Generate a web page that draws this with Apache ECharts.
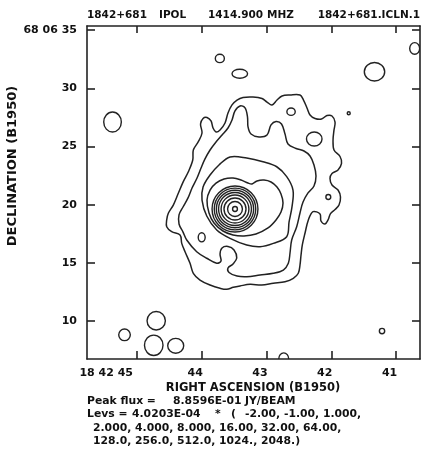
<!DOCTYPE html>
<html><head><meta charset="utf-8">
<script src="https://cdn.jsdelivr.net/npm/echarts@6/dist/echarts.min.js"></script>
<style>html,body{margin:0;padding:0;background:#fff}#c{width:424px;height:452px}</style>
</head><body><div id="c"></div>
<script>
// RA in seconds of time (18h 42m ..s), Dec in arcsec (+68d 06' ..")
const raRange = [40.633, 45.772];
const decRange = [6.745, 35.35];
const raTicks = [41, 42, 43, 44, 45];
const raTickLabels = ['41', '42', '43', '44', '18 42 45'];
const decTicks = [10, 15, 20, 25, 30, 35];
const decTickLabels = ['10', '15', '20', '25', '30', '68 06 35'];

// contour level 1 x base (outer)
const contourL1 = [[43.981,27.41],[43.920,27.49],[43.858,27.19],[43.827,26.59],[43.781,26.25],[43.719,26.42],[43.642,27.02],[43.596,27.88],[43.534,28.57],[43.457,28.99],[43.364,29.21],[43.210,29.25],[43.071,29.12],[42.994,28.82],[42.917,28.57],[42.840,28.99],[42.762,29.34],[42.639,29.42],[42.485,29.42],[42.431,28.99],[42.377,28.31],[42.330,27.71],[42.253,27.41],[42.153,27.36],[42.068,27.66],[41.991,27.62],[41.944,27.10],[41.960,26.42],[41.975,25.56],[41.960,24.70],[41.867,24.14],[41.844,23.54],[41.898,22.98],[41.991,22.68],[42.022,22.25],[41.991,21.69],[41.898,21.26],[41.860,20.66],[41.883,19.97],[41.944,19.59],[42.014,19.24],[42.052,18.69],[42.099,18.34],[42.161,18.60],[42.176,19.20],[42.284,19.40],[42.356,18.69],[42.407,17.57],[42.449,16.54],[42.469,15.68],[42.485,14.82],[42.511,14.11],[42.588,13.68],[42.716,13.38],[42.897,13.25],[43.076,13.10],[43.256,13.16],[43.410,13.02],[43.514,12.90],[43.616,12.73],[43.719,12.82],[43.873,13.10],[44.028,13.53],[44.131,14.11],[44.182,14.97],[44.259,15.96],[44.310,16.68],[44.336,17.40],[44.465,17.68],[44.542,18.11],[44.542,18.69],[44.517,19.26],[44.440,19.97],[44.363,20.98],[44.286,21.98],[44.208,22.83],[44.140,23.84],[44.131,24.70],[44.054,25.41],[43.997,26.16],[44.020,26.93]];
// level 2
const contourL2 = [[43.410,28.48],[43.333,28.31],[43.295,27.53],[43.287,26.68],[43.241,26.07],[43.117,25.82],[42.994,25.99],[42.932,26.85],[42.855,27.15],[42.770,26.93],[42.716,26.07],[42.670,25.21],[42.546,24.83],[42.423,24.61],[42.330,24.18],[42.269,23.41],[42.238,22.47],[42.269,21.61],[42.361,21.01],[42.438,20.23],[42.485,19.29],[42.536,18.11],[42.613,16.97],[42.639,15.85],[42.665,14.97],[42.742,14.39],[42.897,14.11],[43.102,13.96],[43.307,13.81],[43.457,13.87],[43.580,14.18],[43.596,14.56],[43.519,14.91],[43.461,15.42],[43.503,16.11],[43.596,16.41],[43.688,16.28],[43.719,15.76],[43.704,15.16],[43.770,14.97],[43.924,15.40],[44.079,15.96],[44.233,16.97],[44.290,17.65],[44.352,18.34],[44.352,19.12],[44.290,19.80],[44.213,20.58],[44.151,21.43],[44.074,22.29],[44.012,23.15],[43.951,23.93],[43.873,24.70],[43.781,25.39],[43.688,25.99],[43.596,26.59],[43.534,27.28],[43.488,28.05]];
// level 4
const contourL4 = [[43.981,21.52],[43.873,22.55],[43.735,23.41],[43.565,24.10],[43.307,24.01],[43.056,23.69],[42.844,23.26],[42.690,22.41],[42.593,21.26],[42.608,19.83],[42.654,18.51],[42.690,17.25],[42.897,16.68],[43.102,16.39],[43.307,16.54],[43.565,17.11],[43.770,17.83],[43.924,19.03],[43.997,20.40]];
// level 8
const contourL8 = [[43.920,20.40],[43.873,21.26],[43.781,21.86],[43.657,22.21],[43.519,22.29],[43.395,22.12],[43.287,21.86],[43.225,21.78],[43.148,22.04],[43.040,22.12],[42.932,21.95],[42.840,21.52],[42.778,20.92],[42.747,20.15],[42.778,19.37],[42.855,18.69],[42.978,18.00],[43.164,17.48],[43.349,17.31],[43.519,17.40],[43.673,17.74],[43.812,18.43],[43.889,19.29]];
// core: levels 16 ... 2048 (radius in arcsec)
const coreCenter = [43.488, 19.63];
const coreRadii = [1.98, 1.79, 1.61, 1.42, 1.20, 0.95, 0.64, 0.21];
// small closed contours: [ra, dec, half-width arcsec, half-height arcsec]
const islands = [
  [43.722,32.56,0.39,0.36],[43.414,31.25,0.67,0.39],[41.335,31.42,0.88,0.79],[40.715,33.42,0.43,0.50],
  [45.378,27.10,0.76,0.86],[42.623,27.99,0.36,0.32],[42.265,25.64,0.67,0.60],[41.733,27.85,0.13,0.13],
  [45.193,8.82,0.50,0.50],[44.704,10.03,0.79,0.79],[44.742,7.92,0.80,0.88],[44.403,7.88,0.69,0.64],
  [42.736,6.75,0.43,0.52],[41.219,9.15,0.23,0.23],[44.002,17.20,0.30,0.39],[42.048,20.66,0.21,0.21]
];

const titleParts = ['1842+681', 'IPOL', '1414.900', 'MHZ', '1842+681.ICLN.1'];
const peakParts = ['Peak flux =', '8.8596E-01', 'JY/BEAM'];
const levParts = ['Levs =', '4.0203E-04', '*', '(', '-2.00, -1.00, 1.000,'];
const levLines = ['2.000, 4.000, 8.000, 16.00, 32.00, 64.00,', '128.0, 256.0, 512.0, 1024., 2048.)'];

const cosDec = Math.cos((68 + 6 / 60 + 20 / 3600) * Math.PI / 180);
const arcsecToRaSec = 1 / (15 * cosDec);
const INK = '#222';
const FONT = '"DejaVu Sans", "Liberation Sans", sans-serif';

const contours = [contourL1, contourL2, contourL4, contourL8];
const ellipseData = islands.map(d => d.slice())
  .concat(coreRadii.map(r => [coreCenter[0], coreCenter[1], r, r]));

const chart = echarts.init(document.getElementById('c'), null, {renderer: 'canvas'});

function axisBase(extra) {
  return Object.assign({
    type: 'value',
    splitLine: {show: false},
    axisLine: {show: true, onZero: false, lineStyle: {color: INK, width: 1.6}},
  }, extra);
}
function txt(x, y, text, size, extra) {
  return {type: 'text', x: x, y: y, style: Object.assign({text: text, font: 'bold ' + size + 'px ' + FONT,
    fill: '#111', verticalAlign: 'middle', textVerticalAlign: 'middle'}, extra || {})};
}

chart.setOption({
  animation: false,
  backgroundColor: '#fff',
  grid: {left: 87, right: 4, top: 26, bottom: 93, containLabel: false},
  xAxis: [
    axisBase({position: 'bottom', min: raRange[0], max: raRange[1], inverse: true,
      axisTick: {inside: true, length: 8, customValues: raTicks, lineStyle: {color: INK, width: 1.6}},
      axisLabel: {customValues: raTicks, margin: 9, align: 'right',
        fontFamily: FONT, fontWeight: 'bold', fontSize: 11, color: '#111',
        formatter: v => {
          const i = raTicks.indexOf(Math.round(v));
          const t = raTickLabels[i];
          return i === raTicks.length - 1 ? '{w|' + t + '}' : '{n|' + t + '}';
        },
        rich: {
          w: {fontFamily: FONT, fontWeight: 'bold', fontSize: 11, color: '#111', padding: [0, 4, 0, 0]},
          n: {fontFamily: FONT, fontWeight: 'bold', fontSize: 11, color: '#111', padding: [0, -1, 0, 0]}
        }}}),
    axisBase({position: 'top', min: raRange[0], max: raRange[1], inverse: true,
      axisTick: {inside: true, length: 7, customValues: raTicks, lineStyle: {color: INK, width: 1.6}},
      axisLabel: {show: false}})
  ],
  yAxis: [
    axisBase({position: 'left', min: decRange[0], max: decRange[1],
      axisTick: {inside: true, length: 8, customValues: decTicks, lineStyle: {color: INK, width: 1.6}},
      axisLabel: {customValues: decTicks, margin: 10,
        fontFamily: FONT, fontWeight: 'bold', fontSize: 11, color: '#111',
        formatter: v => decTickLabels[decTicks.indexOf(Math.round(v))]}}),
    axisBase({position: 'right', min: decRange[0], max: decRange[1],
      axisTick: {inside: true, length: 8, customValues: decTicks, lineStyle: {color: INK, width: 1.6}},
      axisLabel: {show: false}})
  ],
  graphic: [
    txt(87, 15, titleParts[0], 10.5),
    txt(159, 15, titleParts[1], 10.5),
    txt(208, 15, titleParts[2], 10.5),
    txt(267, 15, titleParts[3], 10.5),
    txt(420, 15, titleParts[4], 10.5, {align: 'right', textAlign: 'right'}),
    Object.assign(txt(13, 166, 'DECLINATION (B1950)', 13, {align: 'center', textAlign: 'center'}), {rotation: Math.PI / 2}),
    txt(253, 388, 'RIGHT ASCENSION (B1950)', 11.5, {align: 'center', textAlign: 'center'}),
    txt(87, 401.5, peakParts[0], 10.8),
    txt(173, 401.5, peakParts[1], 10.8),
    txt(245, 401.5, peakParts[2], 10.8),
    txt(87, 414.5, levParts[0], 10.8),
    txt(132, 414.5, levParts[1], 10.8),
    txt(215, 414.5, levParts[2], 10.8),
    txt(231, 414.5, levParts[3], 10.8),
    txt(245, 414.5, levParts[4], 10.8),
    txt(93, 428, levLines[0], 10.8),
    txt(93, 441, levLines[1], 10.8)
  ],
  series: [
    {
      type: 'custom', name: 'contours', clip: true, silent: true,
      data: contours.map((c, i) => [c[0][0], c[0][1], i]),
      renderItem: (params, api) => {
        const pts = contours[params.dataIndex].map(p => api.coord(p));
        return {type: 'polygon', shape: {points: pts, smooth: 0.35},
          style: {fill: 'none', stroke: INK, lineWidth: 1.5}};
      }
    },
    {
      type: 'custom', name: 'closed', clip: true, silent: true,
      data: ellipseData,
      renderItem: (params, api) => {
        const ra = api.value(0), dec = api.value(1);
        const c = api.coord([ra, dec]);
        const s = api.size([api.value(2) * arcsecToRaSec, api.value(3)], [ra, dec]);
        return {type: 'ellipse', shape: {cx: c[0], cy: c[1], rx: Math.abs(s[0]), ry: Math.abs(s[1])},
          style: {fill: 'none', stroke: INK, lineWidth: 1.4}};
      }
    }
  ]
});
</script></body></html>
